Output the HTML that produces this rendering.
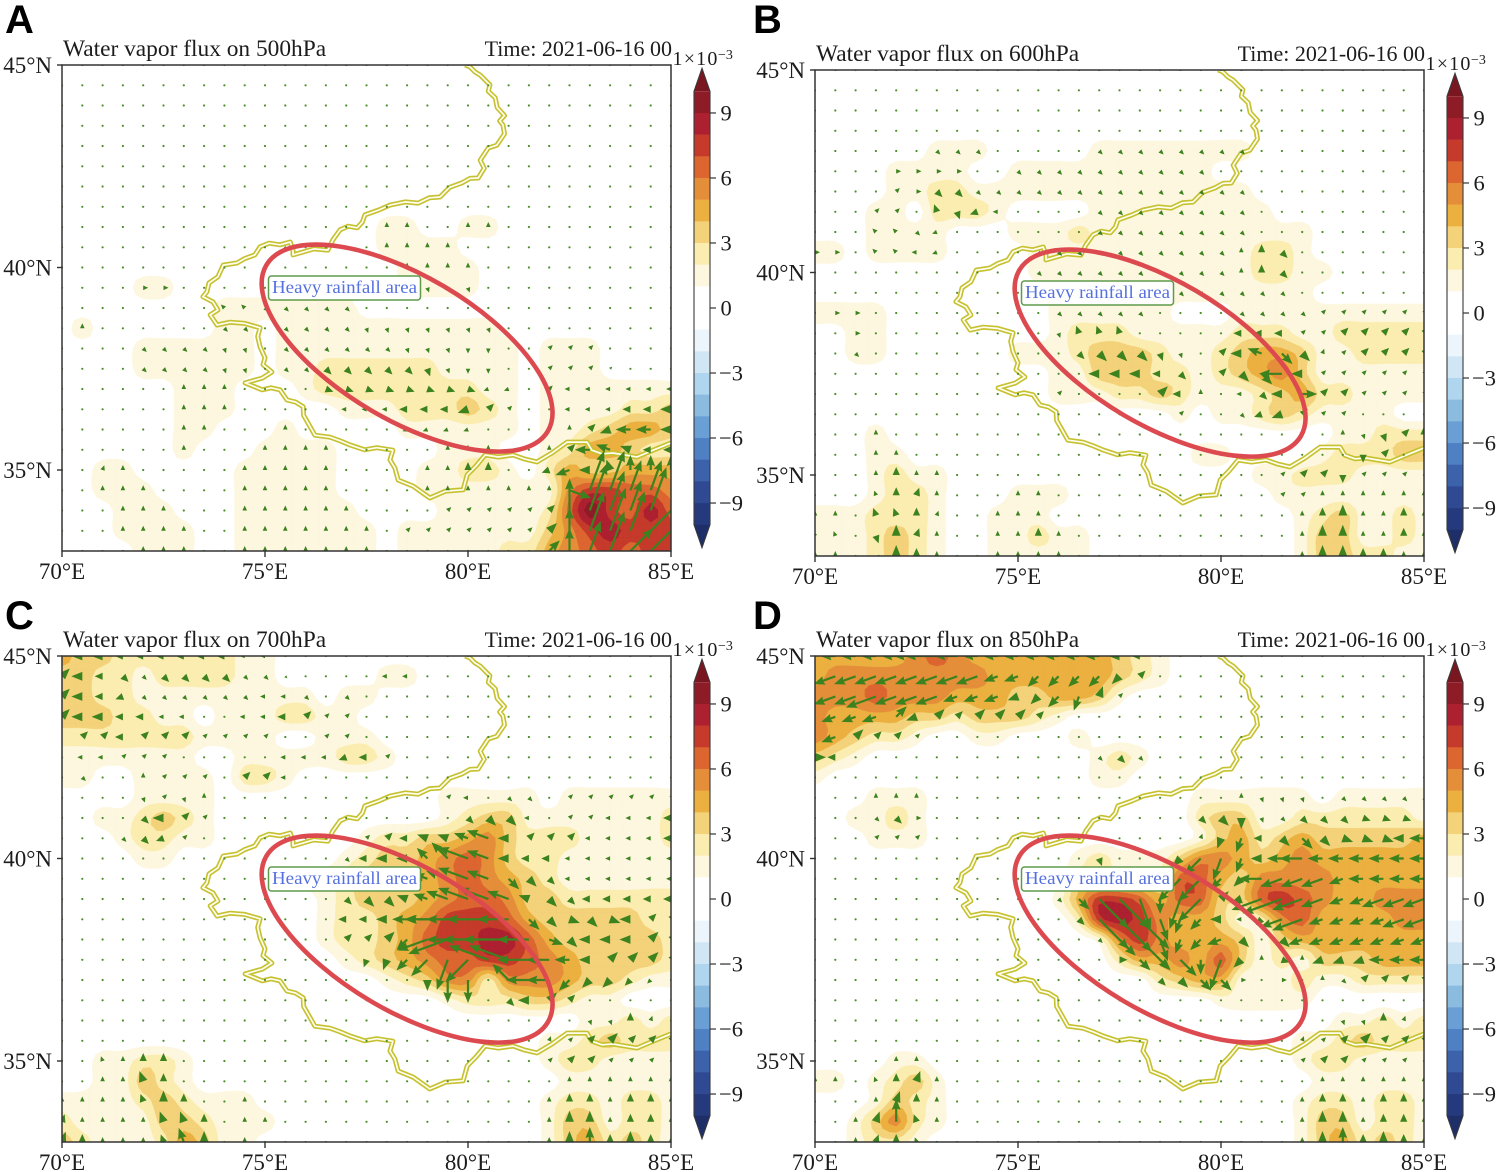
<!DOCTYPE html>
<html lang="en">
<head>
<meta charset="utf-8">
<title>Water vapor flux panels</title>
<style>
html,body{margin:0;padding:0;background:#fff;}
svg{display:block;}
text{font-family:"Liberation Serif",serif;fill:#1c1c1c;}
.letter{font-family:"Liberation Sans",sans-serif;font-weight:700;font-size:40px;fill:#000;}
</style>
</head>
<body>
<svg id="chart" xmlns="http://www.w3.org/2000/svg" width="1500" height="1172" viewBox="0 0 1500 1172"></svg>
<script>
// ---- data: flux level on a 0.5 degree grid, rows 45N to 33N, columns 70E to 85E (digit d = d+0.5 x 1e-3)
const fieldA = [
"0","0","0","0","0","0","0","0",
"00000 00000 00000 01100 11000 00000 0",
"00000 00000 00000 01111 00000 00000 0",
"00000 00000 00000 00111 10000 00000 0",
"00001 10000 00000 00111 10000 00000 0",
"00000 00011 11111 00000 00000 00000 0",
"01000 00011 01111 11111 11000 00000 0",
"00001 11111 01111 11111 11101 11000 0",
"00001 11111 01122 22221 11101 11000 0",
"00000 01110 00122 22222 21101 11111 1",
"00000 01110 00001 11222 32101 11122 3",
"00000 01100 01000 00111 11101 12344 3",
"00000 01000 11110 00001 11001 24432 2",
"00110 00001 11110 00011 22102 43344 4",
"00111 00001 11110 00011 11111 57766 5",
"00011 10001 11111 00001 11112 69768 6",
"00011 11001 11111 10111 11113 57877 7",
"00001 11001 11111 10111 11224 56767 7"
];
const fieldB = [
"0","0","0","0",
"00000 01110 00001 11111 11000 00000 0",
"00001 11100 11111 11111 00000 00000 0",
"00001 12211 11111 11111 11000 00000 0",
"00011 02221 00001 11111 11100 00000 0",
"00011 11000 11121 11111 11111 00000 0",
"11011 11000 01111 11111 11221 00000 0",
"00000 00000 01111 11111 11221 10000 0",
"00000 00000 00111 11111 11111 00000 0",
"11110 00000 00111 11100 01111 11111 1",
"00110 00000 00122 21111 12221 12222 2",
"00110 00000 11123 33211 23443 11222 2",
"00000 00000 00113 33221 23453 11111 1",
"00000 00000 00111 22321 11234 22111 1",
"00000 00000 00000 00010 11232 11110 0",
"00010 00000 00000 00000 00000 01122 2",
"00011 00000 00000 00001 10000 12223 3",
"00012 11000 00000 00000 00112 22111 1",
"00012 21000 11100 00000 00011 11111 1",
"11122 21001 11000 00000 00001 23112 1",
"11123 21001 12110 00000 00001 33112 1",
"11123 21001 11110 00000 00001 33221 1"
];
const fieldC = [
"43322 22221 10000 00000 00000 00000 0",
"33221 22221 10000 01100 00000 00000 0",
"33221 11111 11101 10000 00000 00000 0",
"33322 11011 12211 00000 00000 00000 0",
"22222 22111 10011 10000 00000 00000 0",
"11111 11001 11112 21000 00000 00000 0",
"11001 11102 21000 00000 00000 00000 0",
"00001 11100 00000 00001 11110 11111 1",
"00112 32100 00000 00001 23311 11111 2",
"00012 21100 00000 12233 45322 21111 2",
"00001 10000 00001 23345 65322 11111 1",
"00000 00000 00112 33345 65432 11111 1",
"00000 00000 00012 33345 66533 22222 2",
"00000 00000 00012 23457 77643 33332 2",
"00000 00000 00012 23467 78864 33333 2",
"00000 00000 00001 23456 67765 43333 2",
"00000 00000 00000 01235 52555 43321 1",
"00000 00000 00000 00001 22233 21100 0",
"00000 00000 00000 00000 00000 01121 2",
"00000 00000 00000 00000 00001 12322 2",
"00112 21000 00000 00000 00001 22111 1",
"00113 21000 00000 00000 00000 11111 1",
"11112 32111 00000 00000 00001 22122 1",
"21111 33211 10000 00000 00001 33122 1",
"32111 24311 00000 00000 00001 34232 1"
];
const fieldD = [
"44444 56544 44444 32100 00000 00000 0",
"45555 55554 44444 32100 00000 00000 0",
"55565 55444 33443 10000 00000 00000 0",
"54444 33233 32100 00000 00000 00000 0",
"54322 10011 00010 00000 00000 00000 0",
"32100 00000 00001 21000 00000 00000 0",
"10000 00000 00001 10000 00000 00000 0",
"00011 10000 00000 00001 11111 01111 1",
"00112 10000 00000 00002 33112 22222 1",
"00011 10000 00000 00001 34234 33333 4",
"00000 00000 00012 11135 54345 44444 4",
"00000 00000 00022 22266 43555 54444 4",
"00000 00000 00147 76466 33676 54455 5",
"00000 00000 00027 87544 31256 44445 5",
"00000 00000 00001 57544 43134 44444 4",
"00000 00000 00000 24454 63121 33344 4",
"00000 00000 00000 00234 41112 11222 2",
"00000 00000 00000 00000 11111 00000 0",
"00000 00000 00000 00000 00000 01121 2",
"00000 00000 00000 00000 00001 12322 2",
"00001 10000 00000 00000 00001 22111 1",
"11012 31000 00000 00000 00000 11111 1",
"00013 21000 00000 00000 00001 22122 1",
"00135 21000 00000 00000 00001 33122 1",
"00122 10000 00000 00000 00001 34232 1"
];
// wind direction letters on the same grid ('.' = calm dot)
const dirA = [
".",".",".",".",".",".",".",".",
"..... ..... ..... .nn.. nn... ..... .",
"..... ..... ..... .nnnn ..... ..... .",
"..... ..... ..... ..nnn n.... ..... .",
"....e e.... ..... ..uuu u.... ..... .",
"..... ...dd bbbbb ..... ..... ..... .",
".n... ...bb .bbbb uuuuu uu... ..... .",
"....b bbbuu .bbbb bbuuu ss..a aa... .",
"....b bbbuu .bbbb bbbuu ss..a aaa.. .",
"..... .nnn. ...rr rrrrr rjj.a wwwww w",
"..... .nnn. ....w wwwww jaa.. wwwww w",
"..... .nn.. .n... ..jjj j...n najww w",
"..... .n... nnnn. ....n nn..n awhhw w",
"..kn. ....n nnnn. ...nn nn..j jwmnn n",
"..nnn ....n nnnn. ...nn nnnnn rkkkk k",
"...nn n...n nnnnn ....a aaaaa nkkkk a",
"...nn nn..n nnnnn n.aaa aaaaa nkkka a",
"....n nn..n nnnnn n.... ....a nkkaa a"
];
const dirB = [
".",".",".",".",
"..... .bbb. ....b bbbbb bb... ..... .",
"....e eee.. bbbbb bbbbb ..... ..... .",
"....a ebbbb bbbbb bbbbb bb... ..... .",
"...aa .mujw ....b bbbbb bb... ..... .",
"...dd bj... ....b bbbbb bb... ..... .",
"ee.dd wj... .bbbb bbbbb bnnb. ..... .",
"..... ..... .bbbb bbbbb bnnb. ..... .",
"..... ..... ..bbb bbbbb bbbb. ..... .",
".ee.. ..... ..bbb bb... .bbbb aaaaa a",
"..e.. ..... ..umm m.... .wwwa aaaaa a",
"..b.. ..... ...bb bbuu. awhbb kaaaa a",
"..... ..... ....w wwwb. abbww aaaaa a",
"..... ..... ..a.. ..awn .wbwe aaaaa a",
"..... ..... ..... ...a. .bjja aa... .",
"...n. ..... ..... ..... ..... .nuua n",
"...nn ..... ..... ..... ..... ..sa. .",
"...nn nn... ..... ..... ...aa asaaa .",
"...mn kn... nn... ..... ...aa nnnnn n",
"nn.mm nk..n nn... ..... ....n nnnnn n",
"mm.un kn..n nnn.. ..... ....n nnnnn n",
"nn.un nn..n nnn.. ..... ....n nnnnn n"
];
const dirC = [
"wwwww wwwww w.... ..... ..... ..... .",
"awwbb bbbbb bb... .ww.. ..... ..... .",
"awwjb bbbbb wwb.b ..... ..... ..... .",
"awwww ww..w wwaaa ..... ..... ..... .",
"waawa aaaaa a..aa ..... ..... ..... .",
".wwaa a.... .wwwj wa... ..... ..... .",
".b..n aaa.a aw... ..... ..... ..... .",
"....u aun.. ..... ....a w.bb. aaaaa a",
"....b waa.. ..... ..... bbbw. aawww w",
"...bb ja... ..... aawhh hhwaa awwww w",
"..... ..... ....b wwwdd hhwww wwwww w",
"..... ..... ...ww wwwhh hhbbb wwwww w",
"..... ..... ....b bbhhh hhhhb bwwww w",
"..... ..... ....w wwwww wwwbb rbrwa a",
"..... ..... ....a aacjj wwwwr bwwwa a",
"..... ..... ..... ttcct chhww wwaaa a",
"..... ..... ..... ...ss s.dww ccccc .",
"..... ..... ..... ..... ..bwa a.... .",
"..... ..... ..... ..... ..... .uunk .",
"..... ..... ..... ..... ....k aaaaa a",
"..mnn n.... ..... ..... ....a aaaaa .",
"..nnm n.... ..... ..... ..... nnnnn n",
"nnnnm nn..n ..... ..... ....n nnnnn n",
"knnnn mmn.n n.... ..... ....n nnnnn n",
"knnnn mmn.n ..... ..... ....n nnnnn n"
];
const dirD = [
"wwwww wwwww wwwww ww... ..... ..... .",
"jjjjj jjjjj jcccc ca... ..... ..... .",
"jjjjj jjjjj jcctk a.... ..... ..... .",
"jjjja jaaaa aa... ..... ..... ..... .",
"jjaaa a.... ..... ..... ..... ..... .",
"ew... ..... ....b bb... ..... ..... .",
".",
"...nn n.... ..... ..... .nuuu .bbbb b",
"...bb e.... ..... ....b bsubb bbrrr r",
"...aa a.... ..... ....k ttwbb brrrw w",
"..... ..... ....u ...cc ttwww wwwww w",
"..... ..... ..... ...cc ccwjj jjwww w",
"..... ..... ..bbb bustc ajjjj jjjjj j",
"..... ..... ...bb bbutc wwcjj jjjjj j",
"..... ..... ....b bbutc jb.bj jjjjj j",
"..... ..... ..... ebbbs tcnrn jjjww w",
"..... ..... ..... ..bbb be.e. nbaaa a",
".",
"..... ..... ..... ..... ..... .uunk .",
"..... ..... ..... ..... ....k aaaaa a",
"....n n.... ..... ..... ....a aaaaa .",
"nn.mn kn... ..... ..... ..... nnnnn n",
"...nk nn... ..... ..... ....n nnnnn n",
"..nkn mn... ..... ..... ....n nnnnn n",
"..nkn m.... ..... ..... ....n nnnnn n"
];
const dirAngles = {e:0,q:20,a:45,k:70,n:90,m:110,d:135,h:160,w:180,j:200,c:225,t:250,s:270,u:290,b:315,r:340};
const speedByLevel = [3,5,8,11,15,23,32,42,46,50];
const pressures = ["500hPa","600hPa","700hPa","850hPa"];
const panelLetters = ["A","B","C","D"];
const lonTicks = [70,75,80,85];
const latTicks = [45,40,35];
const cbTicks = [9,6,3,0,-3,-6,-9];
const levelValues = [1,2,3,4,5,6,7,8,9,10];
const levelColors = ["#fdf7df","#fbedb0","#f3d27a","#ebb03f","#e58e3a","#dc6530","#c53a2a","#ad2030","#8e1c27","#7a1620"];
const cbBands = [
 [9,10,"#8e1c27"],[8,9,"#ad2030"],[7,8,"#c53a2a"],[6,7,"#dc6530"],[5,6,"#e58e3a"],[4,5,"#ebb03f"],[3,4,"#f3d27a"],[2,3,"#fbedb0"],[1,2,"#fdf7df"],[0,1,"#ffffff"],
 [-1,0,"#ffffff"],[-2,-1,"#ecf5fb"],[-3,-2,"#d0e6f5"],[-4,-3,"#b0d5ee"],[-5,-4,"#8cbbe0"],[-6,-5,"#6a9fd5"],[-7,-6,"#4f80c4"],[-8,-7,"#3c62ab"],[-9,-8,"#2f4a93"],[-10,-9,"#253a7c"]
];
const borderLonLat = [
[79.93,45],[80.05,44.95],[80.17,44.83],[80.3,44.75],[80.54,44.51],[80.5,44.35],[80.67,44.19],[80.72,43.95],[80.9,43.75],[80.78,43.62],[80.86,43.52],[80.9,43.3],[80.71,43.02],[80.5,42.95],[80.3,42.65],[80.4,42.45],[80.25,42.21],[80.05,42.2],[79.85,42.09],[79.55,41.98],[79.31,41.74],[79.05,41.72],[78.77,41.59],[78.45,41.62],[78.08,41.54],[77.8,41.42],[77.46,41.3],[77.4,41.12],[77.27,40.98],[77.05,41.02],[76.85,40.93],[76.67,40.68],[76.55,40.43],[76.2,40.46],[75.86,40.36],[75.69,40.31],[75.69,40.43],[75.62,40.63],[75.37,40.56],[75.1,40.6],[74.88,40.51],[74.75,40.31],[74.5,40.22],[74.31,40.11],[73.97,40.06],[73.9,39.9],[73.84,39.77],[73.62,39.62],[73.57,39.4],[73.47,39.28],[73.72,39.15],[73.84,38.95],[73.65,38.83],[73.82,38.58],[74.14,38.65],[74.5,38.62],[74.88,38.51],[74.82,38.3],[74.88,38.04],[75,37.77],[74.95,37.6],[75.17,37.42],[74.93,37.27],[74.51,37.15],[74.63,37.1],[74.93,36.98],[75.15,37.03],[75.37,36.98],[75.54,36.73],[75.75,36.68],[75.94,36.56],[75.95,36.35],[76.06,36.16],[76.23,35.86],[76.6,35.81],[76.85,35.72],[77.09,35.62],[77.45,35.5],[77.75,35.55],[78.15,35.49],[78.08,35.25],[78.2,35.05],[78.28,34.75],[78.65,34.6],[79.06,34.31],[79.45,34.48],[79.88,34.51],[79.98,34.88],[80.2,35.1],[80.42,35.37],[80.75,35.32],[81.11,35.37],[81.4,35.27],[81.7,35.2],[82.07,35.42],[82.44,35.69],[82.93,35.69],[83.05,35.49],[83.3,35.4],[83.57,35.42],[84.16,35.32],[84.56,35.49],[85,35.67]
];
const fields = [fieldA,fieldB,fieldC,fieldD];
const dirGrids = [dirA,dirB,dirC,dirD];
// ---- layout
const origins = [[62,65],[815,70],[62,656],[815,656]];
const PW = 609, PH = 486, UP = 3;
const NS = "http://www.w3.org/2000/svg";
const root = document.getElementById('chart');
function mk(tag, attrs, parent){
  const el = document.createElementNS(NS, tag);
  for (const k in attrs) el.setAttribute(k, attrs[k]);
  (parent||root).appendChild(el);
  return el;
}
function parseGrid(rows, fill){
  const out = [];
  for (const r of rows) out.push(r.replace(/ /g,'').padEnd(31, fill).split(''));
  return out;
}
function cr(p0,p1,p2,p3,t){
  return 0.5*((2*p1)+(-p0+p2)*t+(2*p0-5*p1+4*p2-p3)*t*t+(-p0+3*p1-3*p2+p3)*t*t*t);
}
function refine(grid){
  const R = grid.length, C = grid[0].length;
  const at = (j,i) => grid[Math.max(0,Math.min(R-1,j))][Math.max(0,Math.min(C-1,i))];
  const out = [];
  for (let fj=0; fj<=(R-1)*UP; fj++){
    const row = [], j = Math.floor(fj/UP), tj = fj/UP-j;
    for (let fi=0; fi<=(C-1)*UP; fi++){
      const i = Math.floor(fi/UP), ti = fi/UP-i;
      const c = [-1,0,1,2].map(dj => cr(at(j+dj,i-1),at(j+dj,i),at(j+dj,i+1),at(j+dj,i+2),ti));
      row.push(cr(c[0],c[1],c[2],c[3],tj));
    }
    out.push(row);
  }
  return out;
}
function clipPoly(pts, vals, level){
  const out = [];
  for (let i=0;i<pts.length;i++){
    const a=pts[i], b=pts[(i+1)%pts.length], va=vals[i], vb=vals[(i+1)%pts.length];
    if (va>=level) out.push(a);
    if ((va>=level)!==(vb>=level)){
      const t=(level-va)/(vb-va);
      out.push([a[0]+(b[0]-a[0])*t, a[1]+(b[1]-a[1])*t]);
    }
  }
  return out;
}
panelLetters.forEach(function(letter, pi){
  const ox = origins[pi][0], oy = origins[pi][1];
  const lonToX = lon => ox + (lon-70)/15*PW;
  const latToY = lat => oy + (45-lat)/12*PH;
  const cbY = v => oy + 243 - v*21.67;
  const vals = parseGrid(fields[pi],'0').map(r => r.map(c => +c + 0.5));
  const fine = refine(vals);
  const dirs = parseGrid(dirGrids[pi],'.');
  const g = mk('g', {});
  
  
  const clipId = 'clip' + letter;
  const defs = mk('defs', {}, g);
  const cp = mk('clipPath', {id:clipId}, defs);
  mk('rect', {x:ox,y:oy,width:PW,height:PH}, cp);
  const plot = mk('g', {'clip-path':'url(#'+clipId+')'}, g);
  
  
  // filled contours
  levelValues.forEach(function(level, li){
    let d = '';
    const step = 0.5/UP;
    for (let j=0;j<fine.length-1;j++){
      for (let i=0;i<fine[0].length-1;i++){
        const vv = [fine[j][i],fine[j][i+1],fine[j+1][i+1],fine[j+1][i]];
        if (Math.max.apply(null,vv) < level) continue;
        const lonA = 70+i*step, lonB = lonA+step, latA = 45-j*step, latB = latA-step;
        const pts = [[lonToX(lonA),latToY(latA)],[lonToX(lonB),latToY(latA)],[lonToX(lonB),latToY(latB)],[lonToX(lonA),latToY(latB)]];
        const poly = clipPoly(pts, vv, level);
        if (poly.length>2) d += 'M' + poly.map(p => p[0].toFixed(1)+' '+p[1].toFixed(1)).join('L') + 'Z';
      }
    }
    if (d){
      const path = mk('path', {d:d, fill:levelColors[li], stroke:levelColors[li], 'stroke-width':0.3}, plot);
      
      
    }
  });
  // border
  const borderD = 'M' + borderLonLat.map(p => lonToX(p[0]).toFixed(1)+' '+latToY(p[1]).toFixed(1)).join('L');
  const b1 = mk('path', {d:borderD, fill:'none', stroke:'#c6c130', 'stroke-width':5, 'stroke-linejoin':'round'}, plot);
  
  
  const b2 = mk('path', {d:borderD, fill:'none', stroke:'#fffef0', 'stroke-width':1.7, 'stroke-linejoin':'round'}, plot);
  
  
  // wind vectors
  for (let j=0;j<25;j++){
    for (let i=0;i<31;i++){
      const x = lonToX(70+i*0.5), y = latToY(45-j*0.5), ch = dirs[j][i];
      if (ch === '.' || !(ch in dirAngles)){
        const dot = mk('circle', {cx:x.toFixed(1), cy:y.toFixed(1), r:1.1, fill:'#4b8f2a'}, plot);
        
        
        continue;
      }
      const L = speedByLevel[Math.floor(vals[j][i])];
      const hl = Math.min(L, 10), hw = Math.min(4.4, L*0.45), s = 1.1;
      let pts;
      if (L <= 11) pts = [[0,-hw],[L,0],[0,hw]];
      else pts = [[0,-s],[L-hl,-s],[L-hl-1,-hw],[L,0],[L-hl-1,hw],[L-hl,s],[0,s]];
      const arrow = mk('polygon', {points:pts.map(p=>p[0].toFixed(1)+','+p[1].toFixed(1)).join(' '), fill:'#3c821e',
        transform:'translate('+x.toFixed(1)+' '+y.toFixed(1)+') rotate('+(-dirAngles[ch])+')'}, plot);
      
      
    }
  }
  // heavy rainfall ellipse and label
  const ex = lonToX(78.5), ey = latToY(38.01);
  const ell = mk('ellipse', {cx:ex, cy:ey, rx:163.4, ry:71.9, fill:'none', stroke:'#dc4a50', 'stroke-width':4.6, transform:'rotate(30.5 '+ex+' '+ey+')'}, g);
  
  
  const box = mk('rect', {x:ox+206.5, y:oy+211, width:152, height:24, rx:3, fill:'#fff', stroke:'#5f9a4a', 'stroke-width':1.5}, g);
  
  
  const lab = mk('text', {x:ox+210, y:oy+228, 'font-size':18, textLength:145, lengthAdjust:'spacingAndGlyphs', style:'fill:#5570e0'}, g);
  lab.textContent = 'Heavy rainfall area';
  
  
  // frame
  const frame = mk('rect', {x:ox, y:oy, width:PW, height:PH, fill:'none', stroke:'#333', 'stroke-width':1.5}, g);
  
  
  // axes
  lonTicks.forEach(function(t){
    const x = lonToX(t);
    const tick = mk('line', {x1:x, x2:x, y1:oy+PH, y2:oy+PH+6, stroke:'#333', 'stroke-width':1.4}, g);
    
    
    const lb = mk('text', {x:x, y:oy+PH+28, 'font-size':23, 'text-anchor':'middle'}, g);
    lb.textContent = t + '°E';
    
    
  });
  latTicks.forEach(function(t){
    const y = latToY(t);
    const tick = mk('line', {x1:ox-5, x2:ox, y1:y, y2:y, stroke:'#333', 'stroke-width':1.4}, g);
    
    
    const lb = mk('text', {x:ox-10, y:y+8, 'font-size':23, 'text-anchor':'end'}, g);
    lb.textContent = t + '°N';
    
    
  });
  // titles
  const tl = mk('text', {x:ox+1, y:oy-9, 'font-size':23.4}, g);
  tl.textContent = 'Water vapor flux on ' + pressures[pi];
  
  
  const tr = mk('text', {x:ox+PW+1, y:oy-9, 'font-size':22, 'text-anchor':'end'}, g);
  tr.textContent = 'Time: 2021-06-16 00';
  
  
  // colorbar
  const bx = ox + 632, bw = 16;
  const cb = mk('g', {}, g);
  
  
  cbBands.forEach(function(b){
    const r = mk('rect', {x:bx, y:cbY(b[1]), width:bw, height:cbY(b[0])-cbY(b[1])+0.3, fill:b[2]}, cb);
    
    
  });
  const tipT = mk('polygon', {points:bx+','+cbY(10)+' '+(bx+bw/2)+','+(cbY(10)-23)+' '+(bx+bw)+','+cbY(10), fill:'#7a1620'}, cb);
  
  
  const tipB = mk('polygon', {points:bx+','+cbY(-10)+' '+(bx+bw/2)+','+(cbY(-10)+23)+' '+(bx+bw)+','+cbY(-10), fill:'#1e2e68'}, cb);
  
  
  const outl = mk('path', {d:'M'+bx+' '+cbY(10)+'L'+(bx+bw/2)+' '+(cbY(10)-23)+'L'+(bx+bw)+' '+cbY(10)+'V'+cbY(-10)+'L'+(bx+bw/2)+' '+(cbY(-10)+23)+'L'+bx+' '+cbY(-10)+'Z', fill:'none', stroke:'#3a3a3a', 'stroke-width':1.1}, cb);
  
  
  cbTicks.forEach(function(t){
    const y = cbY(t);
    const tick = mk('line', {x1:bx+bw, x2:bx+bw+6, y1:y, y2:y, stroke:'#333', 'stroke-width':1.2}, cb);
    
    
    const lb = mk('text', {x:bx+bw+(t<0?9:10.5), y:y+7.5, 'font-size':22.5}, cb);
    lb.textContent = t<0 ? '−'+(-t) : String(t);
    
    
  });
  const sc = mk('text', {x:ox+PW+1.5, y:oy, 'font-size':20, 'letter-spacing':1.2}, cb);
  sc.textContent = '1×10';
  
  
  const sup = mk('text', {x:ox+PW+47, y:oy-6, 'font-size':14}, cb);
  sup.textContent = '−3';
  
  
  // panel letter
  const pl = mk('text', {x:pi%2? 753 : 5, y:pi<2? 33 : 629, 'class':'letter'}, g);
  pl.textContent = letter;
  
  
});
</script>
</body>
</html>
